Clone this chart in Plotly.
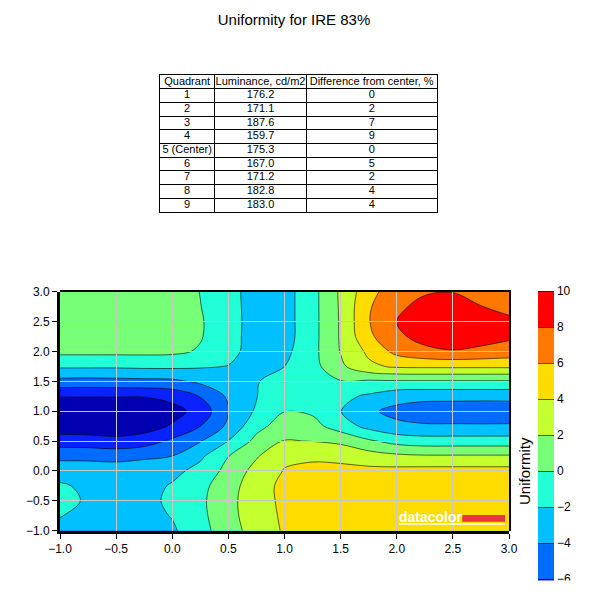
###############################################################################
### Uniformity report chart (table + contour map) to html                   ###
###############################################################################

import plotly.graph_objects as go

# table data
table_header = ['Quadrant', 'Luminance, cd/m2', 'Difference from center, %']
quadrants = ['1', '2', '3', '4', '5 (Center)', '6', '7', '8', '9']
luminance = ['176.2', '171.1', '187.6', '159.7', '175.3', '167.0', '171.2', '182.8', '183.0']
difference = ['0', '2', '7', '9', '0', '5', '2', '4', '4']

# contour grid positions
x_pos = [-1.0, -0.75, -0.5, -0.25, 0.0, 0.25, 0.5, 0.75, 1.0,
         1.25, 1.5, 1.75, 2.0, 2.25, 2.5, 2.75, 3.0]
y_pos = [-1.0, -0.75, -0.5, -0.25, 0.0, 0.25, 0.5, 0.75, 1.0,
         1.25, 1.5, 1.75, 2.0, 2.25, 2.5, 2.75, 3.0]

# uniformity values, one row per y (bottom to top)
uniformity = [
    [-2.4, -2.7, -3.0, -2.8, -2.3, -0.7, 1.1, 2.9, 4.2, 4.6, 4.8, 5.0, 5.0, 5.0, 5.0, 5.0, 5.0],
    [-1.95, -2.4, -2.8, -2.7, -1.9, -0.5, 1.35, 3.1, 4.3, 4.7, 4.8, 5.0, 5.0, 5.1, 5.1, 5.1, 5.1],
    [-1.6, -2.15, -2.6, -2.75, -1.5, -0.4, 1.4, 3.2, 4.4, 4.7, 4.8, 5.0, 5.0, 5.1, 5.1, 5.1, 5.1],
    [-1.8, -2.3, -2.6, -2.8, -1.8, -0.6, 1.2, 3.1, 4.5, 4.6, 4.7, 4.9, 5.0, 5.0, 5.0, 5.0, 5.0],
    [-2.7, -2.8, -3.1, -3.0, -2.6, -1.3, 0.6, 2.7, 4.1, 4.3, 4.6, 4.5, 4.6, 4.7, 4.7, 4.7, 4.7],
    [-4.6, -4.6, -4.6, -4.3, -4.0, -2.4, -0.05, 1.8, 3.6, 3.8, 3.4, 2.9, 2.4, 2.2, 2.2, 2.2, 2.2],
    [-7.0, -7.1, -7.5, -7.0, -5.6, -4.1, -1.95, 0.56, 2.1, 1.95, 1.6, 0.3, -0.7, -1.1, -1.1, -1.1, -1.1],
    [-9.2, -9.3, -9.1, -8.9, -7.8, -6.0, -3.6, -0.6, 0.9, 0.67, -1.0, -2.6, -3.6, -3.8, -3.8, -3.8, -3.8],
    [-9.6, -9.8, -9.9, -9.6, -8.7, -7.3, -4.05, -1.7, -0.05, -0.3, -1.95, -3.7, -4.5, -4.9, -5.0, -5.1, -5.0],
    [-7.9, -7.9, -7.9, -7.9, -7.4, -5.9, -3.7, -2.05, -1.2, -1.0, -1.5, -2.3, -3.3, -3.5, -3.5, -3.5, -3.5],
    [-4.6, -4.7, -4.6, -4.5, -4.4, -3.6, -3.0, -2.1, -1.3, -0.9, -0.1, -0.3, -0.2, -0.2, -0.2, -0.2, -0.2],
    [-1.7, -1.7, -1.7, -1.6, -1.6, -1.8, -2.05, -2.5, -2.0, -0.7, 1.6, 3.6, 4.3, 4.4, 4.4, 4.4, 4.4],
    [0.5, 0.5, 0.5, 0.5, 0.4, -0.2, -1.5, -2.7, -2.5, -0.6, 2.1, 4.4, 6.6, 7.5, 7.9, 7.6, 7.2],
    [1.0, 1.1, 1.2, 1.3, 1.2, 0.15, -1.4, -2.7, -2.8, -0.65, 2.2, 5.6, 7.6, 8.7, 8.9, 8.7, 8.3],
    [1.1, 1.2, 1.3, 1.4, 1.3, 0.2, -1.35, -2.7, -2.8, -0.65, 2.2, 5.9, 8.05, 9.0, 9.2, 9.0, 8.5],
    [1.1, 1.2, 1.3, 1.4, 1.3, 0.05, -1.4, -2.7, -2.8, -0.65, 2.25, 5.8, 7.6, 8.6, 8.7, 8.05, 7.3],
    [1.0, 1.1, 1.2, 1.3, 1.2, -0.05, -1.45, -2.7, -2.8, -0.65, 2.3, 5.3, 7.2, 7.8, 7.95, 7.4, 6.9],
]

# one colour per 2-unit band, lowest (-10..-8) to highest (8..10)
band_colors = ['#0000B0', '#0A22FF', '#006CFF', '#00C0FF', '#22FFD6',
               '#78FF78', '#C4FF30', '#FFDC00', '#FF7800', '#FF0000']

FONT = 'Liberation Sans, Arial, sans-serif'
W, H = 590, 607


def px(x):
    # page pixel -> paper fraction (page body adds an 8px offset)
    return (x - 8) / W


def py(y):
    return 1 - (y - 8) / H


# levels -10..10 step 2; plotly samples each band at its middle, so the
# scale runs from the band below -10 to the (empty, white) band above 10
n = len(band_colors) + 1
cont_scale = ([[0, band_colors[0]]]
              + [[(i + 1) / n, c] for i, c in enumerate(band_colors)]
              + [[1, 'white']])

fig = go.Figure()

# contour map
fig.add_trace(go.Contour(
    x=x_pos, y=y_pos, z=uniformity,
    autocontour=False,
    contours=dict(start=-10, end=10, size=2, coloring='fill', showlines=True),
    line=dict(color='rgba(0,0,0,0.6)', width=1, smoothing=1),
    colorscale=cont_scale,
    colorbar=dict(x=px(537.7), xanchor='left', xpad=0,
                  y=py(273), yanchor='top', ypad=0,
                  len=396 / H, lenmode='fraction',
                  thickness=16, outlinewidth=0, ticks='',
                  tick0=0, dtick=2,
                  tickfont=dict(family=FONT, size=12, color='black')),
    hoverinfo='skip',
))

# empty trace on a twin subplot so the grid sits on top of the fills
fig.add_trace(go.Scatter(x=[], y=[], xaxis='x2', yaxis='y2', showlegend=False, hoverinfo='skip'))

# table drawn on its own small axes: grid lines are the cell borders
col_edges = [0, 54.3, 146.7, 276.7]
n_rows = len(quadrants) + 1
row_mid = [n_rows - 0.5 - i for i in range(n_rows)]
for i, col in enumerate([quadrants, luminance, difference]):
    fig.add_trace(go.Scatter(
        x=[(col_edges[i] + col_edges[i + 1]) / 2] * n_rows, y=row_mid,
        text=[table_header[i]] + col, mode='text',
        textfont=dict(family=FONT, size=11, color='black'),
        xaxis='x3', yaxis='y3', showlegend=False, hoverinfo='skip'))

xdom = [px(60), px(509)]
ydom = [py(530.7), py(291.7)]

axis_common = dict(range=[-1, 3], dtick=0.5, tick0=-1, tickformat='.1f',
                   ticks='outside', ticklen=5, tickwidth=1, tickcolor='black',
                   showline=True, linecolor='black', linewidth=3,
                   showgrid=False, zeroline=False, automargin=False,
                   tickfont=dict(family=FONT, size=12, color='black'))

grid_common = dict(range=[-1, 3], dtick=0.5, tick0=-1, showgrid=True,
                   gridcolor='#c8c8c8', gridwidth=1, showticklabels=False,
                   ticks='', zeroline=False, automargin=False,
                   showline=True, linecolor='black', linewidth=2)

table_axis = dict(showgrid=True, gridcolor='black', gridwidth=1, showline=True,
                  mirror=True, linecolor='black', linewidth=1, showticklabels=False,
                  ticks='', zeroline=False, automargin=False, fixedrange=True)

fig.update_layout(
    width=W, height=H,
    template='none',
    font=dict(family=FONT, color='black'),
    title=dict(text='Uniformity for IRE 83%', x=px(294), xanchor='center',
               y=py(20), yanchor='middle', font=dict(size=15, color='black')),
    margin=dict(l=0, r=0, t=0, b=0, autoexpand=False),
    paper_bgcolor='white', plot_bgcolor='rgba(0,0,0,0)',
    showlegend=False,
    xaxis=dict(domain=xdom, anchor='y', **axis_common),
    yaxis=dict(domain=ydom, anchor='x', **axis_common),
    # twin axes: grid on top of the fills, plus the thin top and right frame
    xaxis2=dict(domain=xdom, anchor='y2', side='top', **grid_common),
    yaxis2=dict(domain=ydom, anchor='x2', side='right', **grid_common),
    xaxis3=dict(domain=[px(160), px(436.7)], anchor='y3', range=[0, col_edges[-1]],
                tickvals=col_edges, **table_axis),
    yaxis3=dict(domain=[py(211.7), py(75)], anchor='x3', range=[0, n_rows],
                tickvals=list(range(n_rows + 1)), **table_axis),
    annotations=[
        # colour bar title, on the left of the bar
        dict(text='Uniformity', x=px(525), y=py(471), xref='paper', yref='paper',
             xanchor='center', yanchor='middle',
             textangle=-90, showarrow=False, font=dict(size=15, color='black')),
        # datacolor logo
        dict(text='<b>datacolor</b>', x=px(398), y=py(517), xref='paper', yref='paper',
             xanchor='left', yanchor='middle', showarrow=False, borderpad=0,
             font=dict(family=FONT, size=14, color='white')),
        # the source image is cut just below the colour bar's -6 band
        dict(text=' ', x=px(528), y=0, xref='paper', yref='paper', xanchor='left',
             yanchor='bottom', width=70, height=H - (582 - 8), bgcolor='white',
             showarrow=False, borderpad=0),
    ],
    shapes=[
        dict(type='rect', xref='paper', yref='paper', x0=px(462.3), x1=px(505),
             y0=py(521.7), y1=py(515), fillcolor='#E8343C', line=dict(width=0)),
        dict(type='line', xref='paper', yref='paper', x0=px(399), x1=px(505),
             y0=py(524), y1=py(524), line=dict(color='white', width=1.5)),
    ],
)

fig.write_html('out.html')
